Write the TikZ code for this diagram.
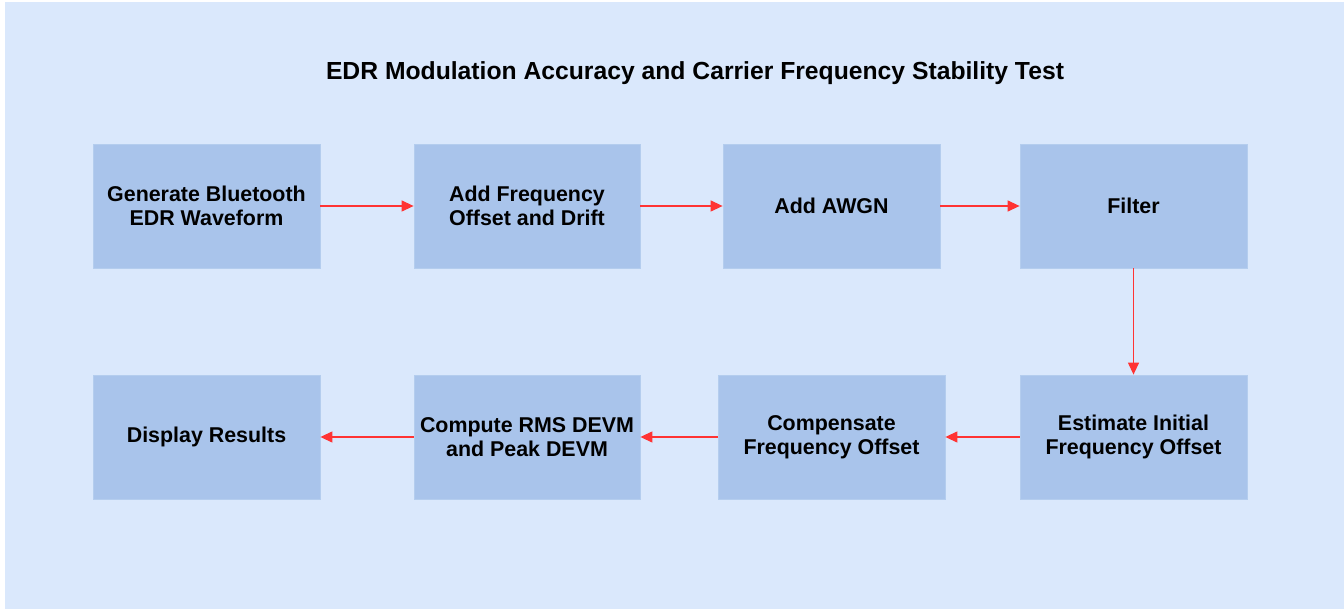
\documentclass[tikz,border=0pt]{standalone}
\usepackage{fontspec}
\setmainfont{Liberation Sans}
\usetikzlibrary{arrows.meta}
\definecolor{bgblue}{HTML}{DAE8FC}
\definecolor{boxblue}{HTML}{A9C4EB}
\definecolor{boxedge}{HTML}{B4CDEE}
\definecolor{arrred}{HTML}{FF3333}
\begin{document}
\begin{tikzpicture}[x=1pt,y=-1pt,
  blk/.style={draw=boxedge,line width=0.8pt,fill=boxblue,font=\fontsize{21.4}{23.5}\selectfont\bfseries,align=center},
  flow/.style={draw=arrred,line width=1.3pt,-{Triangle[length=12pt,width=11pt]}}]
\useasboundingbox (0,0) rectangle (1344,609);
\fill[white] (0,0) rectangle (1344,609);
\fill[bgblue] (5,2) rectangle (1344,609);
\node[font=\fontsize{24.7}{28}\selectfont\bfseries] (title) at (695,73) {EDR Modulation Accuracy and Carrier Frequency Stability Test};
% row 1
\node[blk,minimum width=227pt,minimum height=124pt] (gen) at (206.5,206) {Generate Bluetooth\\EDR Waveform};
\node[blk,minimum width=226pt,minimum height=124pt] (off) at (527,206) {Add Frequency\\Offset and Drift};
\node[blk,minimum width=217pt,minimum height=124pt] (awgn) at (831.5,206) {Add AWGN};
\node[blk,minimum width=227pt,minimum height=124pt] (filt) at (1133.5,206) {Filter};
% row 2
\node[blk,minimum width=227pt,minimum height=124pt] (disp) at (206.5,437) {Display Results};
\node[blk,minimum width=226pt,minimum height=124pt] (devm) at (527,437) {Compute RMS DEVM\\and Peak DEVM};
\node[blk,minimum width=227pt,minimum height=124pt] (comp) at (831.5,437) {Compensate\\Frequency Offset};
\node[blk,minimum width=227pt,minimum height=124pt] (est) at (1133.5,437) {Estimate Initial\\Frequency Offset};
% connectors
\draw[flow] (gen) -- (off);
\draw[flow] (off) -- (awgn);
\draw[flow] (awgn) -- (filt);
\draw[flow] (filt) -- (est);
\draw[flow] (est) -- (comp);
\draw[flow] (comp) -- (devm);
\draw[flow] (devm) -- (disp);
\end{tikzpicture}
\end{document}
